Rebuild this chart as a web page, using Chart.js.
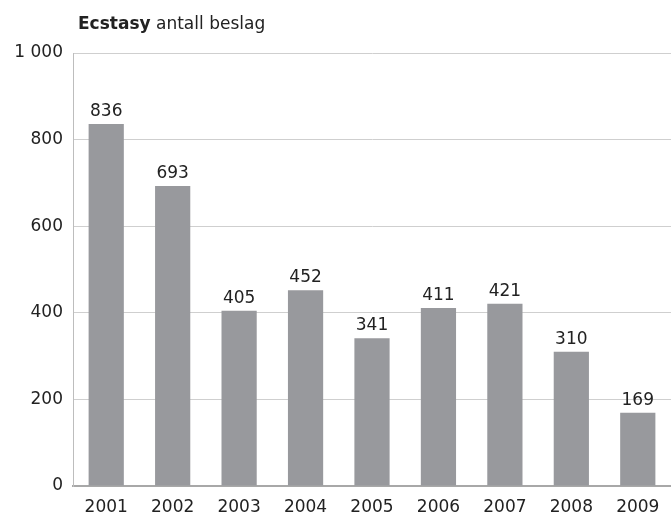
<!DOCTYPE html>
<html>
<head>
<meta charset="utf-8">
<script src="https://cdn.jsdelivr.net/npm/chart.js@4"></script>
<style>
  body { margin: 0; background: #fff; }
  #wrap { position: relative; width: 671px; height: 516px; }
  #title { position: absolute; left: 78px; top: 13px; font: 17px "DejaVu Sans", sans-serif; color: #222; }
  #title b { font-weight: bold; }
</style>
</head>
<body>
<div id="wrap">
  <div id="title"><b>Ecstasy</b> antall beslag</div>
  <canvas id="beslagChart" width="671" height="516"></canvas>
</div>
<script>
const years = ['2001', '2002', '2003', '2004', '2005', '2006', '2007', '2008', '2009'];
const seizures = [836, 693, 405, 452, 341, 411, 421, 310, 169];
const yTicks = [0, 200, 400, 600, 800, 1000];

// draws the value above each bar
const valueLabels = {
    id: 'valueLabels',
    afterDatasetsDraw(chart) {
        const ctx = chart.ctx;
        const meta = chart.getDatasetMeta(0);
        ctx.save();
        ctx.font = '17px "DejaVu Sans", sans-serif';
        ctx.fillStyle = '#222';
        ctx.textAlign = 'center';
        ctx.textBaseline = 'bottom';
        meta.data.forEach((bar, i) => {
            ctx.fillText(seizures[i], bar.x, bar.y - 4);
        });
        ctx.restore();
    }
};

const ctx = document.getElementById('beslagChart').getContext('2d');
const beslagChart = new Chart(ctx, {
    type: 'bar',
    data: {
        labels: years,
        datasets: [{
            data: seizures,
            backgroundColor: '#98999d',
            barPercentage: 0.53,
            categoryPercentage: 1
        }]
    },
    options: {
        responsive: false,
        animation: false,
        layout: { padding: { top: 53, right: 0, bottom: 0, left: 2 } },
        plugins: {
            legend: { display: false },
            tooltip: { enabled: false }
        },
        scales: {
            x: {
                grid: { display: false },
                border: { color: '#a8a8a8', width: 2 },
                ticks: {
                    color: '#222',
                    font: { family: 'DejaVu Sans', size: 17 },
                    padding: 3,
                    maxRotation: 0
                },
                afterFit(scale) { scale.height = 30; }
            },
            y: {
                min: 0,
                max: 1000,
                afterBuildTicks(scale) { scale.ticks = yTicks.map(v => ({ value: v })); },
                grid: { color: '#cfcfcf', drawTicks: false },
                border: { color: '#bdbdbd', width: 1 },
                ticks: {
                    color: '#222',
                    font: { family: 'DejaVu Sans', size: 17 },
                    padding: 10,
                    callback: v => String(v).replace(/\B(?=(\d{3})+(?!\d))/g, ' ')
                },
                afterFit(scale) { scale.width = 71; }
            }
        }
    },
    plugins: [valueLabels]
});
</script>
</body>
</html>
